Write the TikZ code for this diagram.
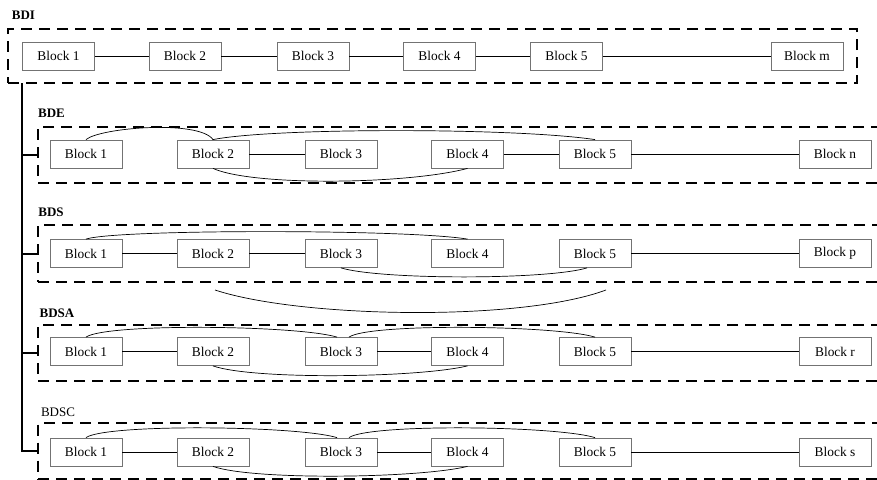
\documentclass[tikz,border=0pt]{standalone}
\usepackage{fontspec}
\setmainfont{Liberation Serif}
\begin{document}
\begin{tikzpicture}[x=1pt,y=-1pt,
  blk/.style={draw=black!55, line width=0.8pt, minimum width=72pt, minimum height=28pt, inner sep=0pt, font=\fontsize{13.4}{16}\selectfont},
  grp/.style={draw, line width=2.6pt, dash pattern=on 11pt off 7pt, inner sep=0pt},
  ttl/.style={font=\fontsize{13}{15}\selectfont\bfseries},
  link/.style={line width=0.7pt},
  trunk/.style={line width=2pt}]

\useasboundingbox (0,0) rectangle (877,479);
\clip (0,0) rectangle (877,479);

\node[ttl] (tbdi) at (23.5,15) {BDI};
\node[ttl] (tbde) at (51.5,113) {BDE};
\node[ttl] (tbds) at (51,212) {BDS};
\node[ttl] (tbdsa) at (57,313) {BDSA};
\node[font=\fontsize{13}{15}\selectfont] (tbdsc) at (58,412) {BDSC};

\node[grp, minimum width=849pt, minimum height=54pt] (bdi) at (432.5,56) {};
\node[grp, minimum width=862pt, minimum height=56pt] (bde) at (469,155) {};
\node[grp, minimum width=862pt, minimum height=57pt] (bds) at (469,253.5) {};
\node[grp, minimum width=862pt, minimum height=56pt] (bdsa) at (469,353) {};
\node[grp, minimum width=862pt, minimum height=56.5pt] (bdsc) at (469,451.25) {};

\coordinate (top) at (22,83);
\draw[trunk] (top) |- (bdsc.west);
\draw[trunk] (top |- bde.west) -- (bde.west);
\draw[trunk] (top |- bds.west) -- (bds.west);
\draw[trunk] (top |- bdsa.west) -- (bdsa.west);

\node[blk] (i1) at (58.5,56) {Block 1};
\node[blk] (i2) at (185,56) {Block 2};
\node[blk] (i3) at (313,56) {Block 3};
\node[blk] (i4) at (439.5,56) {Block 4};
\node[blk] (i5) at (566.5,56) {Block 5};
\node[blk] (im) at (807,56) {Block m};
\draw[link] (i1) -- (i2) -- (i3) -- (i4) -- (i5) -- (im);

\node[blk] (e1) at (86,154) {Block 1};
\node[blk] (e2) at (213,154) {Block 2};
\node[blk] (e3) at (341,154) {Block 3};
\node[blk] (e4) at (467.5,154) {Block 4};
\node[blk] (e5) at (595,154) {Block 5};
\node[blk] (en) at (835,154) {Block n};
\draw[link] (e2) -- (e3);
\draw[link] (e4) -- (e5) -- (en);
\draw[link] (e1.north) .. controls +(14,-12) and +(-14,-20) .. (e2.north);
\draw[link] (e2.north) .. controls +(60,-12) and +(-80,-12) .. (e5.north);
\draw[link] (e2.south) .. controls +(40,18) and +(-60,16) .. (e4.south);

\node[blk] (s1) at (86,253.5) {Block 1};
\node[blk] (s2) at (213,253.5) {Block 2};
\node[blk] (s3) at (341,253.5) {Block 3};
\node[blk] (s4) at (467.5,253.5) {Block 4};
\node[blk] (s5) at (595,253.5) {Block 5};
\node[blk] (sp) at (835,253.5) {Block p};
\draw[link] (s1) -- (s2) -- (s3);
\draw[link] (s5) -- (sp);
\draw[link] (s1.north) .. controls +(30,-10) and +(-60,-10) .. (s4.north);
\draw[link] (s3.south) .. controls +(40,12) and +(-40,12) .. ([xshift=-8pt]s5.south);

\coordinate (lo1) at (215,290);
\coordinate (lo2) at (606,290);
\draw[link] (lo1) .. controls (300,318) and (520,322) .. (lo2);

\node[blk] (a1) at (86,351.5) {Block 1};
\node[blk] (a2) at (213,351.5) {Block 2};
\node[blk] (a3) at (341,351.5) {Block 3};
\node[blk] (a4) at (467.5,351.5) {Block 4};
\node[blk] (a5) at (595,351.5) {Block 5};
\node[blk] (ar) at (835,351.5) {Block r};
\draw[link] (a1) -- (a2);
\draw[link] (a3) -- (a4);
\draw[link] (a5) -- (ar);
\draw[link] (a1.north) .. controls +(20,-14) and +(-40,-12) .. ([xshift=-4pt]a3.north);
\draw[link] ([xshift=8pt]a3.north) .. controls +(20,-14) and +(-40,-12) .. (a5.north);
\draw[link] (a2.south) .. controls +(40,14) and +(-50,12) .. (a4.south);

\node[blk] (c1) at (86,452) {Block 1};
\node[blk] (c2) at (213,452) {Block 2};
\node[blk] (c3) at (341,452) {Block 3};
\node[blk] (c4) at (467.5,452) {Block 4};
\node[blk] (c5) at (595,452) {Block 5};
\node[blk] (cs) at (835,452) {Block s};
\draw[link] (c1) -- (c2);
\draw[link] (c3) -- (c4);
\draw[link] (c5) -- (cs);
\draw[link] (c1.north) .. controls +(20,-14) and +(-40,-12) .. ([xshift=-4pt]c3.north);
\draw[link] ([xshift=8pt]c3.north) .. controls +(20,-14) and +(-40,-12) .. (c5.north);
\draw[link] (c2.south) .. controls +(40,14) and +(-50,12) .. (c4.south);

\end{tikzpicture}
\end{document}
